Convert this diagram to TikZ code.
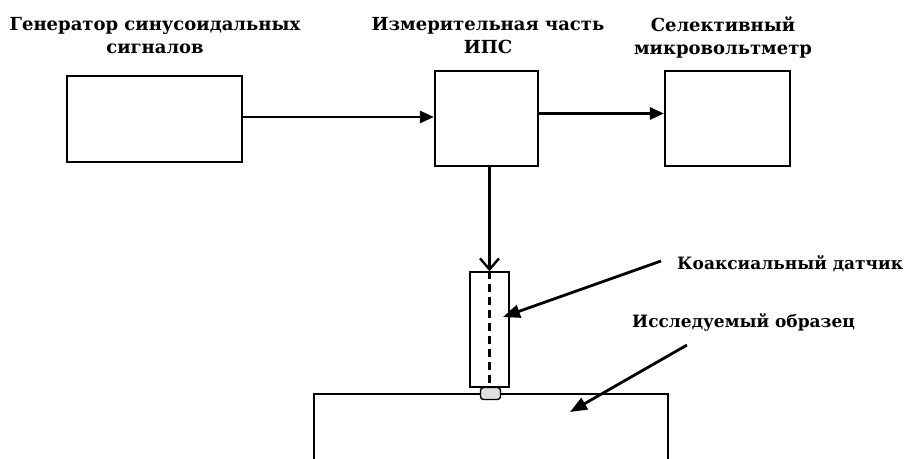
\documentclass[tikz,border=0pt]{standalone}
\usepackage{fontspec}
\setmainfont{DejaVu Serif}
\usetikzlibrary{positioning,arrows.meta}

\begin{document}
\begin{tikzpicture}[x=1pt,y=-1pt,
    blok/.style={draw,line width=2.2pt,inner sep=0pt},
    podpis/.style={font=\bfseries\fontsize{18}{23}\selectfont,align=center,inner sep=0pt},
    vynoska/.style={font=\bfseries\fontsize{17}{21}\selectfont,inner sep=0pt,anchor=west},
    strelka/.style={line width=2.8pt,-{Triangle[length=14pt,width=12pt]}}]
    \useasboundingbox (0,0) rectangle (913,458);
    % blocks
    \node[blok,minimum width=175pt,minimum height=86pt] (gen) at (154.5,119) {};
    \node[blok,minimum width=103pt,minimum height=95pt] (ips) at (486.5,118.5) {};
    \node[blok,minimum width=125pt,minimum height=95pt] (sel) at (727.5,118.5) {};
    \node[podpis,anchor=north] (gentxt) at (155,17) {Генератор синусоидальных\\сигналов};
    \node[podpis,anchor=north] (ipstxt) at (488,17) {Измерительная часть\\ИПС};
    \node[podpis,anchor=north] (seltxt) at (723,17) {Селективный\\микровольтметр};
    \draw[strelka] ([yshift=2pt]gen.east) -- ([yshift=2pt]gen.east -| ips.west);
    \draw[strelka] ([yshift=5pt]ips.east) -- ([yshift=5pt]ips.east -| sel.west);
    % probe and sample
    \node[draw,line width=1.6pt,minimum width=39pt,minimum height=115pt,inner sep=0pt] (koax) at (489.5,329.5) {};
    \draw[line width=2.4pt,dash pattern=on 8pt off 5pt] (koax.north) -- (koax.south);
    \node[draw,line width=1.4pt,rounded corners=3pt,fill=gray!25,minimum width=20pt,minimum height=12pt,inner sep=0pt] (tip) at (490.5,393.5) {};
    \coordinate (obrL) at (314,460);
    \coordinate (obrR) at (668,460);
    \draw[line width=2pt] (obrL) |- (tip.west) (tip.east) -| (obrR);
    \draw[line width=2.4pt,-{Straight Barb[length=11pt,width=19pt]}] (ips.south -| koax) -- (koax.north);
    % labels
    \node[vynoska] (koaxtxt) at (677,264) {Коаксиальный датчик};
    \node[vynoska] (obrtxt) at (632,322) {Исследуемый образец};
    \coordinate (kp) at (503,317);
    \coordinate (op) at (570,412);
    \coordinate (os) at (687,345);
    \draw[strelka,-{Triangle[length=17pt,width=13pt]}] ([xshift=-16pt,yshift=3pt]koaxtxt.west) -- (kp);
    \draw[strelka,-{Triangle[length=17pt,width=13pt]}] (os) -- (op);
\end{tikzpicture}
\end{document}
